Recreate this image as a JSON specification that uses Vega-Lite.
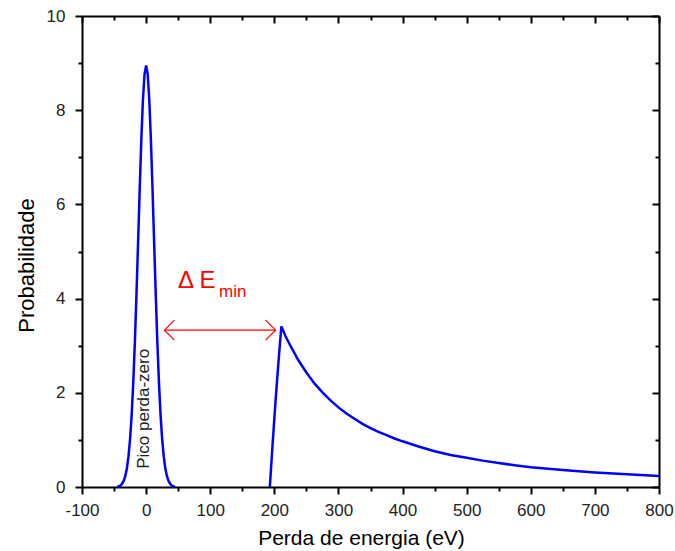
{
  "$schema": "https://vega.github.io/schema/vega-lite/v6.json",
  "width": 577,
  "height": 471,
  "autosize": "none",
  "padding": {"left": 82, "top": 16, "right": 16, "bottom": 64},
  "background": "white",
  "config": {
    "view": {"stroke": null},
    "axis": {
      "grid": false,
      "domainColor": "black",
      "domainWidth": 2,
      "tickColor": "black",
      "tickWidth": 2,
      "labelFont": "Liberation Sans",
      "labelFontSize": 17,
      "labelColor": "#222222",
      "titleFont": "Liberation Sans",
      "titleFontSize": 21,
      "titleFontWeight": "normal",
      "titleColor": "black"
    }
  },
  "datasets": {
    "spectrum": [
      {"e": -45, "p": 0.0, "s": "zl"},
      {"e": -42.5, "p": 0.02, "s": "zl"},
      {"e": -40, "p": 0.03, "s": "zl"},
      {"e": -37.5, "p": 0.07, "s": "zl"},
      {"e": -35, "p": 0.13, "s": "zl"},
      {"e": -32.5, "p": 0.23, "s": "zl"},
      {"e": -30, "p": 0.39, "s": "zl"},
      {"e": -27.5, "p": 0.65, "s": "zl"},
      {"e": -25, "p": 1.02, "s": "zl"},
      {"e": -22.5, "p": 1.54, "s": "zl"},
      {"e": -20, "p": 2.23, "s": "zl"},
      {"e": -17.5, "p": 3.09, "s": "zl"},
      {"e": -15, "p": 4.10, "s": "zl"},
      {"e": -12.5, "p": 5.20, "s": "zl"},
      {"e": -10, "p": 6.32, "s": "zl"},
      {"e": -7.5, "p": 7.36, "s": "zl"},
      {"e": -5, "p": 8.21, "s": "zl"},
      {"e": -2.5, "p": 8.76, "s": "zl"},
      {"e": 0, "p": 8.95, "s": "zl"},
      {"e": 2.5, "p": 8.76, "s": "zl"},
      {"e": 5, "p": 8.21, "s": "zl"},
      {"e": 7.5, "p": 7.36, "s": "zl"},
      {"e": 10, "p": 6.32, "s": "zl"},
      {"e": 12.5, "p": 5.20, "s": "zl"},
      {"e": 15, "p": 4.10, "s": "zl"},
      {"e": 17.5, "p": 3.09, "s": "zl"},
      {"e": 20, "p": 2.23, "s": "zl"},
      {"e": 22.5, "p": 1.54, "s": "zl"},
      {"e": 25, "p": 1.02, "s": "zl"},
      {"e": 27.5, "p": 0.65, "s": "zl"},
      {"e": 30, "p": 0.39, "s": "zl"},
      {"e": 32.5, "p": 0.23, "s": "zl"},
      {"e": 35, "p": 0.13, "s": "zl"},
      {"e": 37.5, "p": 0.07, "s": "zl"},
      {"e": 40, "p": 0.03, "s": "zl"},
      {"e": 42.5, "p": 0.02, "s": "zl"},
      {"e": 45, "p": 0.0, "s": "zl"},
      {"e": 193, "p": 0.0, "s": "edge"},
      {"e": 197, "p": 0.85, "s": "edge"},
      {"e": 202, "p": 1.85, "s": "edge"},
      {"e": 207, "p": 2.75, "s": "edge"},
      {"e": 211, "p": 3.41, "s": "edge"},
      {"e": 217.5, "p": 3.2, "s": "edge"},
      {"e": 225, "p": 3.0, "s": "edge"},
      {"e": 237.5, "p": 2.69, "s": "edge"},
      {"e": 250, "p": 2.43, "s": "edge"},
      {"e": 262.5, "p": 2.2, "s": "edge"},
      {"e": 275, "p": 2.01, "s": "edge"},
      {"e": 287.5, "p": 1.84, "s": "edge"},
      {"e": 300, "p": 1.69, "s": "edge"},
      {"e": 312.5, "p": 1.56, "s": "edge"},
      {"e": 325, "p": 1.45, "s": "edge"},
      {"e": 337.5, "p": 1.34, "s": "edge"},
      {"e": 350, "p": 1.25, "s": "edge"},
      {"e": 362.5, "p": 1.17, "s": "edge"},
      {"e": 375, "p": 1.1, "s": "edge"},
      {"e": 387.5, "p": 1.03, "s": "edge"},
      {"e": 400, "p": 0.97, "s": "edge"},
      {"e": 425, "p": 0.86, "s": "edge"},
      {"e": 450, "p": 0.76, "s": "edge"},
      {"e": 475, "p": 0.68, "s": "edge"},
      {"e": 500, "p": 0.62, "s": "edge"},
      {"e": 525, "p": 0.56, "s": "edge"},
      {"e": 550, "p": 0.51, "s": "edge"},
      {"e": 575, "p": 0.46, "s": "edge"},
      {"e": 600, "p": 0.42, "s": "edge"},
      {"e": 650, "p": 0.36, "s": "edge"},
      {"e": 700, "p": 0.31, "s": "edge"},
      {"e": 750, "p": 0.27, "s": "edge"},
      {"e": 800, "p": 0.235, "s": "edge"}
    ],
    "arrow": [{"e1": 28.5, "e2": 202, "p": 3.33}],
    "heads": [
      {"e": 28.5, "p": 3.33, "side": "left"},
      {"e": 202, "p": 3.33, "side": "right"}
    ],
    "big": [{"e": 49.8, "p": 4.22, "t": "Δ E"}],
    "sub": [{"e": 113.7, "p": 4.04, "t": "min"}],
    "pico": [{"e": 4, "p": 1.66, "t": "Pico perda-zero"}]
  },
  "resolve": {"axis": {"x": "independent", "y": "independent"}},
  "layer": [
    {
      "data": {"name": "spectrum"},
      "mark": {"type": "line", "color": "#0000ff", "strokeWidth": 2.5, "interpolate": "linear"},
      "encoding": {
        "x": {
          "field": "e", "type": "quantitative",
          "scale": {"domain": [-100, 800], "nice": false, "zero": false},
          "axis": {
            "orient": "bottom",
            "title": "Perda de energia (eV)",
            "values": [-100, -50, 0, 50, 100, 150, 200, 250, 300, 350, 400, 450, 500, 550, 600, 650, 700, 750, 800],
            "labelExpr": "datum.value % 100 === 0 ? toString(datum.value) : ''",
            "tickSize": {"condition": {"test": "datum.value % 100 === 0", "value": 7}, "value": 4},
            "labelPadding": 8,
            "labelFlush": false,
            "labelOverlap": false,
            "titleX": 279,
            "titleY": 57,
            "titleBaseline": "alphabetic",
            "titleAnchor": "middle"
          }
        },
        "y": {
          "field": "p", "type": "quantitative",
          "scale": {"domain": [0, 10], "nice": false},
          "axis": {
            "orient": "left",
            "title": "Probabilidade",
            "values": [0, 1, 2, 3, 4, 5, 6, 7, 8, 9, 10],
            "labelExpr": "datum.value % 2 === 0 ? toString(datum.value) : ''",
            "tickSize": {"condition": {"test": "datum.value % 2 === 0", "value": 7}, "value": 4},
            "labelPadding": 10,
            "labelFlush": false,
            "labelOverlap": false,
            "titleFontSize": 22,
            "titleX": -49,
            "titleY": 249,
            "titleBaseline": "alphabetic",
            "titleAnchor": "middle"
          }
        },
        "detail": {"field": "s", "type": "nominal"}
      }
    },
    {
      "data": {"name": "arrow"},
      "mark": {"type": "rule", "color": "#ff0000", "strokeWidth": 1.2},
      "encoding": {
        "x": {
          "field": "e1", "type": "quantitative",
          "scale": {"domain": [-100, 800], "nice": false, "zero": false},
          "axis": {
            "orient": "top",
            "title": null,
            "values": [-100, -50, 0, 50, 100, 150, 200, 250, 300, 350, 400, 450, 500, 550, 600, 650, 700, 750, 800],
            "labels": false,
            "tickSize": {"condition": {"test": "datum.value % 100 === 0", "value": -7}, "value": -4}
          }
        },
        "x2": {"field": "e2"},
        "y": {
          "field": "p", "type": "quantitative",
          "scale": {"domain": [0, 10], "nice": false},
          "axis": {
            "orient": "right",
            "title": null,
            "values": [0, 1, 2, 3, 4, 5, 6, 7, 8, 9, 10],
            "labels": false,
            "tickSize": {"condition": {"test": "datum.value % 2 === 0", "value": -7}, "value": -4}
          }
        }
      }
    },
    {
      "data": {"name": "heads"},
      "mark": {"type": "point", "filled": false, "color": "#ff0000", "strokeWidth": 1.2, "size": 400, "opacity": 1},
      "encoding": {
        "x": {"field": "e", "type": "quantitative", "scale": {"domain": [-100, 800], "nice": false, "zero": false}, "axis": null},
        "y": {"field": "p", "type": "quantitative", "scale": {"domain": [0, 10], "nice": false}, "axis": null},
        "shape": {
          "field": "side", "type": "nominal",
          "scale": {"domain": ["left", "right"], "range": ["M1,-1L0,0L1,1", "M-1,-1L0,0L-1,1"]},
          "legend": null
        }
      }
    },
    {
      "data": {"name": "big"},
      "mark": {"type": "text", "color": "#ff0000", "font": "Liberation Sans", "fontSize": 24, "align": "left", "baseline": "alphabetic"},
      "encoding": {
        "x": {"field": "e", "type": "quantitative", "scale": {"domain": [-100, 800], "nice": false, "zero": false}, "axis": null},
        "y": {"field": "p", "type": "quantitative", "scale": {"domain": [0, 10], "nice": false}, "axis": null},
        "text": {"field": "t"}
      }
    },
    {
      "data": {"name": "sub"},
      "mark": {"type": "text", "color": "#ff0000", "font": "Liberation Sans", "fontSize": 17, "align": "left", "baseline": "alphabetic"},
      "encoding": {
        "x": {"field": "e", "type": "quantitative", "scale": {"domain": [-100, 800], "nice": false, "zero": false}, "axis": null},
        "y": {"field": "p", "type": "quantitative", "scale": {"domain": [0, 10], "nice": false}, "axis": null},
        "text": {"field": "t"}
      }
    },
    {
      "data": {"name": "pico"},
      "mark": {"type": "text", "color": "#222222", "font": "Liberation Sans", "fontSize": 17, "align": "center", "baseline": "alphabetic", "angle": 270},
      "encoding": {
        "x": {"field": "e", "type": "quantitative", "scale": {"domain": [-100, 800], "nice": false, "zero": false}, "axis": null},
        "y": {"field": "p", "type": "quantitative", "scale": {"domain": [0, 10], "nice": false}, "axis": null},
        "text": {"field": "t"}
      }
    }
  ]
}
